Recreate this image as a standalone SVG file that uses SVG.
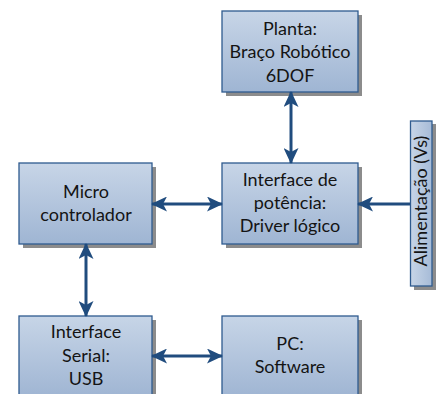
<svg xmlns="http://www.w3.org/2000/svg" width="436" height="394" viewBox="0 0 436 394">
  <defs>
    <linearGradient id="boxFill" x1="0" y1="0" x2="0" y2="1">
      <stop offset="0" stop-color="#c7d5e7"/>
      <stop offset="1" stop-color="#9fb5d3"/>
    </linearGradient>
    <linearGradient id="barFill" x1="0" y1="0" x2="1" y2="0">
      <stop offset="0" stop-color="#c7d5e7"/>
      <stop offset="1" stop-color="#a6bbd7"/>
    </linearGradient>
    <marker id="head" viewBox="0 0 16 15" refX="15" refY="7.5" markerWidth="16" markerHeight="15" markerUnits="userSpaceOnUse" orient="auto-start-reverse">
      <path d="M0,0 L16,7.5 L0,15 L4,7.5 Z" fill="#204c7e"/>
    </marker>
  </defs>
  <style>
    .shadow { fill: #8c8c8c; }
    .box { fill: url(#boxFill); stroke: #2f5b8f; stroke-width: 1.3; }
    .bar { fill: url(#barFill); stroke: #2f5b8f; stroke-width: 1.3; }
    .lbl { font-family: Lato, "Liberation Sans", sans-serif; font-size: 18px; fill: #141414; text-anchor: middle; }
    .link { stroke: #204c7e; stroke-width: 3; fill: none; }
  </style>
  <rect width="436" height="394" fill="#ffffff"/>

  <g id="planta">
    <rect class="shadow" x="226" y="15" width="136" height="81"/>
    <rect class="box" x="222" y="11" width="136" height="81"/>
    <text class="lbl" x="290" y="35">Planta:</text>
    <text class="lbl" x="290" y="58">Braço Robótico</text>
    <text class="lbl" x="290" y="82">6DOF</text>
  </g>

  <g id="microcontrolador">
    <rect class="shadow" x="23" y="167" width="133" height="81"/>
    <rect class="box" x="19" y="163" width="133" height="81"/>
    <text class="lbl" x="86" y="198">Micro</text>
    <text class="lbl" x="86" y="221">controlador</text>
  </g>

  <g id="interface-potencia">
    <rect class="shadow" x="226" y="167" width="136" height="81"/>
    <rect class="box" x="222" y="163" width="136" height="81"/>
    <text class="lbl" x="290" y="186">Interface de</text>
    <text class="lbl" x="290" y="209">potência:</text>
    <text class="lbl" x="290" y="232">Driver lógico</text>
  </g>

  <g id="alimentacao">
    <rect class="shadow" x="414" y="124" width="22" height="166"/>
    <rect class="bar" x="410.5" y="121" width="21.5" height="165"/>
    <text class="lbl" transform="translate(427 201) rotate(-90)" x="0" y="0">Alimentação (Vs)</text>
  </g>

  <g id="interface-serial">
    <rect class="shadow" x="23" y="320" width="133" height="81"/>
    <rect class="box" x="19" y="316" width="133" height="81"/>
    <text class="lbl" x="86" y="338">Interface</text>
    <text class="lbl" x="86" y="362">Serial:</text>
    <text class="lbl" x="86" y="385">USB</text>
  </g>

  <g id="pc">
    <rect class="shadow" x="226" y="320" width="136" height="81"/>
    <rect class="box" x="222" y="316" width="136" height="81"/>
    <text class="lbl" x="290" y="350">PC:</text>
    <text class="lbl" x="290" y="373">Software</text>
  </g>

  <g id="connectors">
    <line class="link" x1="291" y1="92" x2="291" y2="163" marker-start="url(#head)" marker-end="url(#head)"/>
    <line class="link" x1="152" y1="204" x2="222" y2="204" marker-start="url(#head)" marker-end="url(#head)"/>
    <line class="link" x1="410" y1="204" x2="358" y2="204" marker-end="url(#head)"/>
    <line class="link" x1="86" y1="244" x2="86" y2="316" marker-start="url(#head)" marker-end="url(#head)"/>
    <line class="link" x1="152" y1="356" x2="222" y2="356" marker-start="url(#head)" marker-end="url(#head)"/>
  </g>
</svg>
